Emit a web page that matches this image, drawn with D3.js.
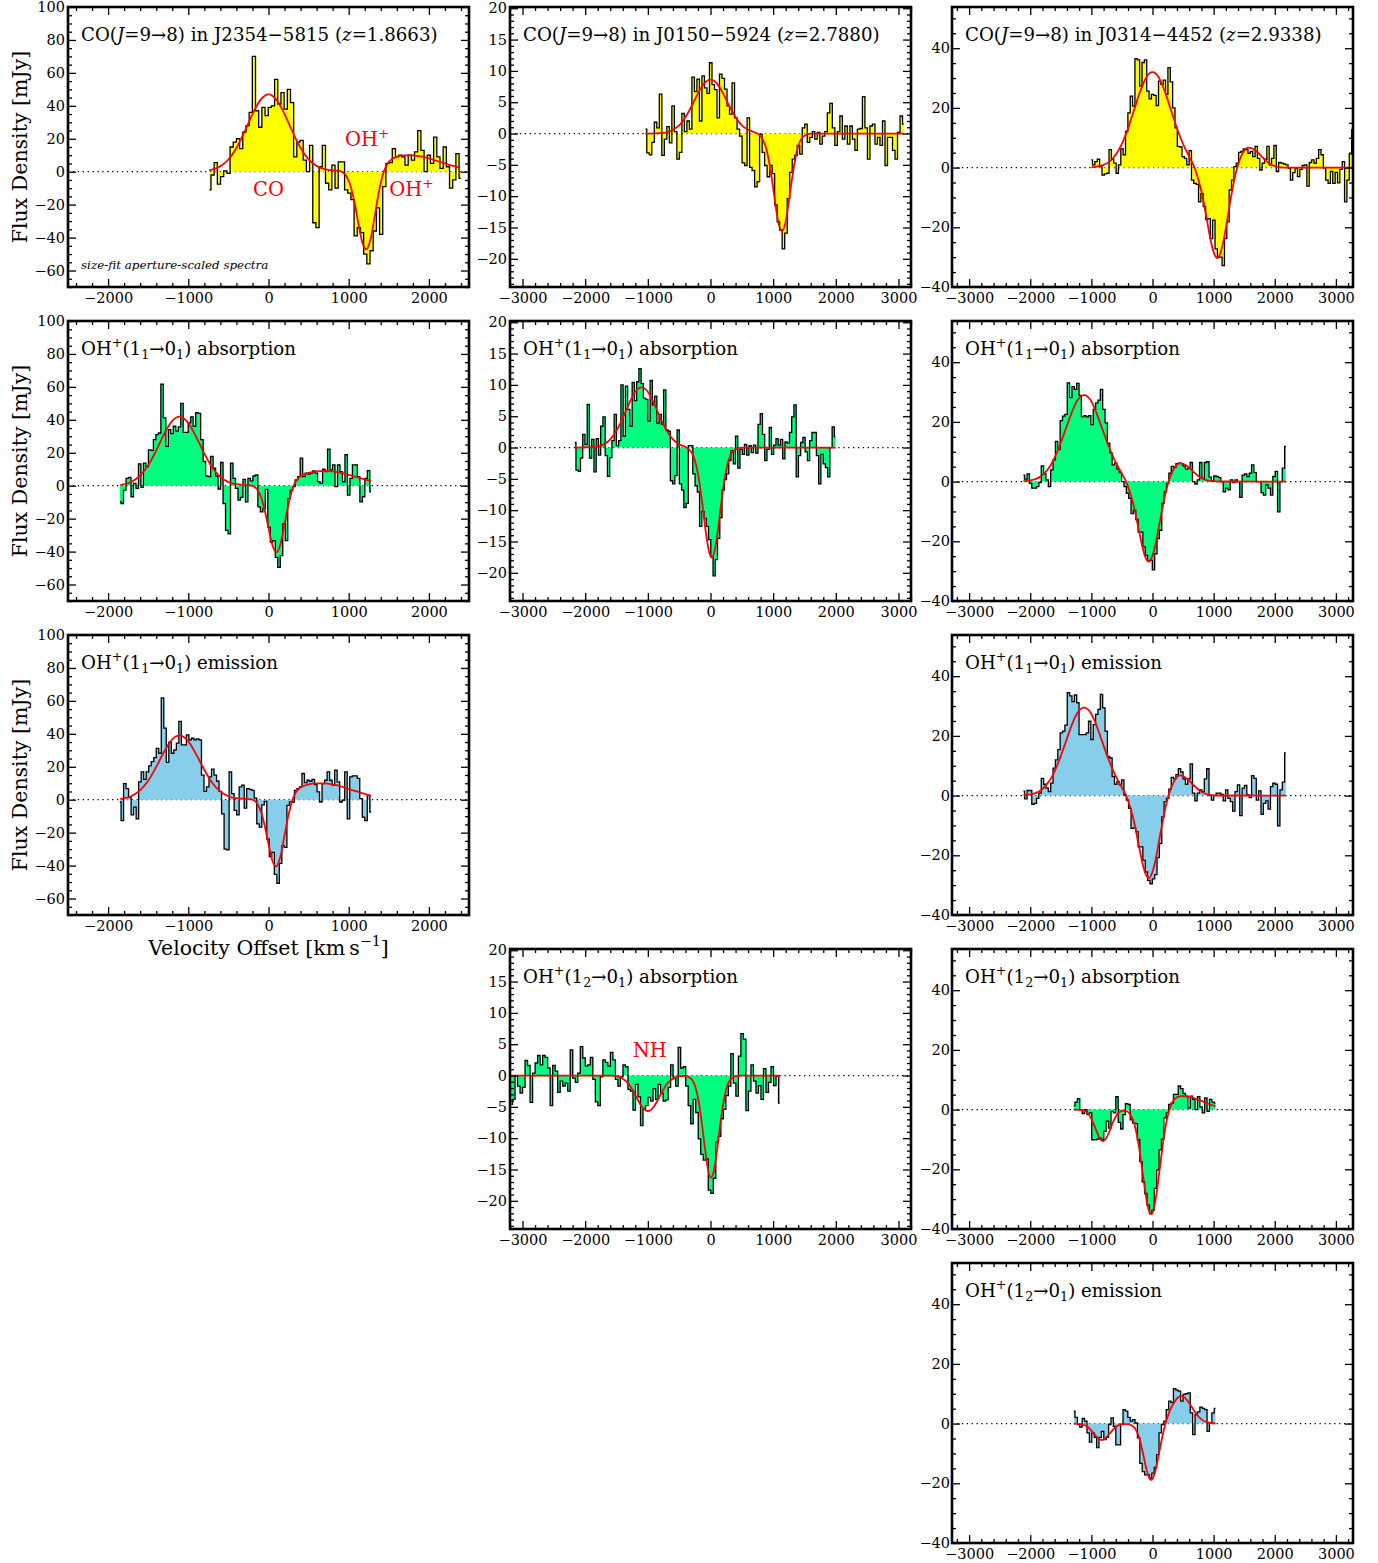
<!DOCTYPE html>
<html><head><meta charset="utf-8">
<script src="https://cdn.jsdelivr.net/npm/d3@7/dist/d3.min.js"></script>
<style>
html,body{margin:0;padding:0;background:#fff;}
svg{display:block;}
</style></head>
<body>
<svg id="chart" width="1378" height="1563"></svg>
<script>
// ================= DATA =================
// Channel flux densities [mJy], channels evenly spaced between first/last channel velocity [km/s]
const A1_range=[-737,2396];
const A1_flux=[-11,-2,5.5,-7.5,-3,0.5,-1,15,18,20,14,24,28,36,70,37,27,39,34,39,40,56,41,48,38,50,42,9,18,19,7,0,16,-31,-34,3,16,-7,-11,4,-10,6,6,-11,-13,-17,-39,-34,-37,-50,-56,-48,-36,-22,-38,-9,5,5.5,14,9,10,9,4,10,7,12,25,13,0,10,5,21,9,2,15,3,-10,-5,11,-4];
const A1_fitV=[-740,-600,-500,-400,-300,-200,-100,0,100,200,300,400,500,600,700,800,900,1000,1070,1120,1170,1220,1270,1320,1370,1420,1500,1600,1700,1800,1900,2000,2100,2200,2300,2390];
const A1_fitF=[0.8,3.3,7.4,14.4,24.2,35.0,43.6,47.0,43.6,35.0,24.2,14.4,7.5,3.4,1.5,0.85,0.2,-5.5,-18.1,-31.3,-42.9,-47.2,-41.5,-28.5,-14.0,-2.8,6.0,9.1,9.9,9.9,9.25,8.05,6.5,5.0,3.5,2.4];

const B1_range=[-1037,3085];
const B1_flux=[0.7,-3.1,-3.4,-1.4,1.8,0.9,6.3,-3.5,-0.9,1.1,-1.5,4.4,0.3,-4.1,-3.0,3.2,0.3,2.0,0.7,9.0,6.7,8.7,2.0,9.2,7.3,6.4,11.3,7.8,7.0,2.5,9.5,8.8,7.1,4.4,3.1,8.1,2.5,0.7,-0.4,-4.7,-5.1,2.5,-5.4,-5.9,-8.5,-7.7,-0.1,-3.0,-5.1,-6.9,-5.1,-6.4,-11.4,-14.1,-15.4,-18.4,-15.9,-10.4,-6.2,-4.1,-3.5,-1.9,-3.3,0.9,1.5,-1.4,-0.6,0.3,-0.9,0.2,-1.7,-0.4,0.3,3.3,4.8,0.9,-1.9,0.3,2.8,-0.9,1.2,-1.7,1.2,-0.9,-2.7,0.7,0.8,5.9,0.9,-4.1,1.2,1.5,-1.7,-0.6,-1.9,2.0,-5.1,-0.6,-0.6,-2.7,-4.1,0.2,2.8,1.5];
const B1_fitV=[-1040,-800,-700,-600,-500,-400,-300,-200,-100,0,100,200,300,400,500,600,700,800,900,960,1000,1040,1090,1140,1190,1240,1280,1320,1380,1480,1600,3080];
const B1_fitF=[0,0.07,0.2,0.6,1.3,2.6,4.4,6.4,8.0,8.6,8.0,6.4,4.4,2.6,1.3,0.6,0.2,-0.44,-2.8,-6.0,-8.7,-11.6,-14.5,-15.6,-14.5,-11.6,-8.7,-6.0,-2.8,-0.5,0,0];

const C1_range=[-1000,3277];
const C1_flux=[2.6,0.9,2.0,2.8,0.3,-2.5,-2.1,-1.9,6.0,2.8,1.5,-1.9,0.9,6.3,4.3,12.1,18.3,23.9,20.6,36.5,36.1,27.3,35.2,36.1,25.6,23.0,24.5,24.2,20.8,29.0,27.9,29.3,24.5,33.5,28.7,20.0,13.3,7.1,6.9,3.7,3.1,0.9,5.7,-4.2,-5.3,-5.6,-11.5,-8.7,-13.1,-17.4,-17.1,-23.8,-17.6,-27.2,-30.0,-30.0,-32.8,-23.8,-18.2,-7.5,-4.2,0.3,1.5,5.1,5.4,6.3,6.0,4.8,5.4,3.7,7.1,3.1,-0.8,1.5,2.8,7.1,0.9,3.1,7.4,-1.3,1.7,1.5,1.2,0.9,-0.2,-4.2,-1.7,-0.2,-3.0,-0.6,0.7,0.9,-6.2,1.7,2.6,1.5,3.1,6.0,4.3,-0.2,-4.2,-5.3,-1.3,-5.3,-1.6,-5.1,-0.6,2.0,-11.5,-4.2,4.6,12.7];
const C1_fitV=[-1000,-800,-700,-600,-500,-400,-300,-200,-100,0,100,200,300,400,500,600,700,800,900,960,1010,1060,1110,1160,1250,1350,1450,1570,1700,1800,1900,2000,2100,2200,3270];
const C1_fitF=[0.1,0.9,2.1,4.3,8.0,13.2,19.4,25.6,30.3,32,30.3,25.6,19.4,13.2,7.9,3.7,-0.7,-7.9,-18.7,-25.2,-28.9,-30.3,-28.7,-24.7,-14.0,-2.9,3.8,6.7,5.5,3.4,1.5,0.5,0.1,0,0];

const A2_range=[-1854,1279];
const A2_flux=[-9.8,-10.8,-2.7,4.5,5.1,-6.7,1.4,-1.6,13.3,-1.0,13.7,11.6,21.8,21.4,28.0,31.0,32.0,61.6,41.2,23.9,34.1,31.6,36.1,33.1,35.7,50.0,32.4,32.4,38.2,41.8,36.1,44.3,43.9,28.0,14.7,5.9,5.5,17.8,10.6,5.9,-2.0,14.1,-10.8,-27.1,-29.2,13.7,4.5,-1.6,-8.8,-7.1,3.9,-9.8,4.5,2.9,5.9,6.5,-12.9,-15.9,-13.9,-2.2,-25.1,-34.3,-33.3,-43.5,-49.6,-42.4,-23.1,-33.3,-7.8,-2.7,-0.6,3.5,5.5,16.7,5.5,7.6,7.1,7.6,9.0,7.6,2.4,1.4,10.0,8.6,22.2,9.6,12.7,-0.6,12.7,8.6,2.4,18.8,-5.7,4.5,12.7,12.7,5.5,-9.8,-6.7,4.5,9.2,-3.7];
const A2_fitV=[-1850,-1700,-1600,-1500,-1400,-1300,-1200,-1110,-1000,-900,-800,-700,-600,-500,-400,-300,-200,-100,-40,0,50,100,150,200,250,300,400,500,600,700,800,900,1000,1100,1200,1280];
const A2_fitF=[0.5,2.6,6.2,12.4,21.4,31.5,39.4,42,38.1,29.5,19.5,10.9,5.2,2.2,0.9,0.5,-0.1,-6.0,-16.4,-25.6,-36.3,-40.4,-35.2,-23.5,-11.0,-1.8,5.9,7.8,8.7,9.0,8.7,7.8,6.6,5.2,3.8,2.8];

const B2_range=[-2165,1995];
const B2_flux=[0.8,-3.6,-3.8,-1.7,2.1,0.5,6.9,-1.7,1.3,-3.9,1.4,-1.2,3.4,4.9,-1.3,-4.6,-1.6,1.1,5.3,0.3,1.1,10.0,1.8,9.8,6.1,3.4,10.4,7.5,10.5,12.6,10.2,7.9,7.7,4.2,10.7,6.8,8.2,3.9,5.3,3.7,9.2,2.8,2.6,-5.3,-5.8,-4.5,2.8,-5.8,-6.8,-9.6,-8.9,0.3,0.3,-4.2,-6.1,-7.1,-12.6,-10.2,-11.3,-12.6,-14.7,-17.4,-20.5,-17.9,-14.5,-11.2,-6.8,-5.1,-4.2,-2.1,-0.5,-2.6,1.8,-3.3,-0.3,-1.1,0.5,-1.2,0.3,-0.8,0.4,-0.9,3.7,5.4,2.1,-2.1,-0.3,3.2,-1.1,0.4,1.4,0.4,1.3,-1.8,0.9,0.7,2.4,4.9,6.8,-4.7,-1.3,0.8,1.6,-0.7,-2.1,1.1,2.4,2.4,-1.3,-5.8,-1.1,-2.6,-3.2,-4.7,0,3.3,1.7];
const B2_fitV=[-2165,-1900,-1800,-1700,-1600,-1500,-1400,-1300,-1200,-1100,-1000,-900,-800,-700,-600,-500,-400,-300,-200,-130,-80,-30,20,70,120,170,240,350,500,1995];
const B2_fitF=[0,0.06,0.2,0.5,1.3,2.7,4.7,7.0,8.9,9.6,8.9,7.0,4.7,2.7,1.3,0.5,0.1,-0.8,-4.2,-9.0,-13.1,-16.3,-17.6,-16.3,-13.1,-9.0,-4.2,-0.7,0,0];

const C2_range=[-2110,2181];
const C2_flux=[2.2,0.8,2.6,-0.6,-2.2,-2.2,-1.7,-0.3,5.3,2.6,0.6,-1.7,3.9,7.3,13.5,10.7,20.4,21.9,22.5,33.1,28.1,31.8,30.9,32.9,28.9,21.7,22.1,21.7,22.1,19.1,24.2,26.4,27.3,30.9,24.2,19.7,12.9,9.6,5.6,6.2,4.2,3.0,0,-1.7,-3.9,-5.6,-10.7,-9.6,-12.7,-16.9,-16.9,-21.9,-24.7,-26.6,-26.4,-29.6,-24.2,-19.1,-16.3,-7.3,-3.4,-0.6,2.8,5.1,4.8,6.0,6.2,6.0,5.3,4.2,4.5,6.4,0,-0.8,0.6,6.4,1.1,6.4,6.7,1.5,0.3,1.9,1.7,1.3,0,-3.4,-2.2,-2.8,0.6,-0.3,0.6,0,-5.3,2.2,2.6,1.7,2.8,5.6,3.0,0,0,-3.7,-4.5,-1.1,-2.2,-4.5,1.7,3.4,-10.1,0,4.5,11.8];
const C2_fitV=[-2110,-1920,-1820,-1720,-1620,-1520,-1420,-1320,-1220,-1120,-1020,-920,-820,-720,-620,-520,-420,-320,-220,-160,-110,-60,-10,40,130,230,330,450,580,680,780,880,980,1080,2180];
const C2_fitF=[0.1,0.8,1.9,3.9,7.2,12.0,17.6,23.2,27.5,29.0,27.5,23.2,17.6,12.0,7.2,3.3,-0.6,-7.0,-16.6,-22.3,-25.6,-26.8,-25.4,-21.9,-12.3,-2.5,3.5,6.2,5.0,3.1,1.4,0.5,0.13,0.03,0];

const A3_range=[-1854,1279];
const A3_flux=[-1.4,-12.7,9.8,6.7,1.6,-9.2,-4.5,-11.6,10.8,16.9,12.4,16.9,20.6,23.1,25.5,31.2,28.2,61.8,43.5,22.7,34.9,28.2,30.2,34.3,47.6,33.3,33.3,39.4,36.3,37.3,36.3,36.9,36.3,14.9,5.1,7.8,13.9,18.6,14.9,11.2,5.1,-8.6,-30.0,-30.4,16.9,3.7,-6.5,-9.2,7.8,8.8,-5.1,6.7,6.3,5.7,1.0,-14.7,-16.7,-3.1,-1.0,-23.9,-34.5,-32.0,-45.3,-50.8,-38.6,-28.0,-29.0,-3.5,-1.4,-1.4,5.7,6.7,7.8,15.9,10.4,11.8,11.2,12.4,9.2,4.7,-1.4,9.8,11.8,16.9,11.8,8.8,18.0,10.8,-1.4,-0.4,16.9,-11.6,13.9,14.5,14.5,12.9,0.6,-10.6,-12.7,2.7,-7.6];
const A3_fitV=[-1850,-1700,-1600,-1500,-1400,-1300,-1200,-1110,-1000,-900,-800,-700,-600,-500,-400,-300,-200,-100,-40,0,50,95,150,200,250,300,400,500,600,700,800,900,1000,1100,1200,1280];
const A3_fitF=[0.5,2.4,5.8,11.5,19.9,29.3,36.6,39,35.4,27.4,18.1,10.1,4.9,2.1,0.9,0.6,0.1,-6.5,-17.4,-26.9,-37.2,-40.5,-34.2,-21.7,-9.1,0,7.5,9.25,9.9,9.9,9.25,8.1,6.5,5.0,3.5,2.2];

const C3_range=[-2110,2181];
const C3_flux=[1.5,-1.1,1.7,1.7,-2.9,-2.6,-0.9,0.8,5.8,3.8,2.5,1.3,4.2,9.2,12.0,15.4,21.0,21.6,23.6,34.5,33.4,31.5,33.7,31.1,20.4,20.4,20.4,21.0,24.9,18.8,23.8,27.2,28.9,33.9,29.4,21.6,13.1,12.6,6.4,3.8,4.7,3.6,5.3,0.2,-1.5,-4.3,-11.0,-10.8,-12.1,-17.2,-17.2,-21.7,-25.6,-28.4,-29.6,-27.9,-26.5,-20.8,-16.1,-7.1,-2.0,-0.9,2.2,6.1,5.6,7.0,9.0,7.9,5.6,3.8,5.6,10.6,0.8,-1.8,0.8,1.9,1.3,5.6,9.0,0,-1.5,0,0.8,0.8,0.4,-1.8,1.9,-0.9,-2.0,-5.2,1.3,3.6,-6.7,2.5,3.4,0.2,-0.7,6.7,5.8,-1.5,1.6,-6.3,-2.6,-1.8,-4.5,3.0,4.2,3.8,-10.1,1.9,4.5,14.3];
const C3_fitV=[-2110,-1920,-1820,-1720,-1620,-1520,-1420,-1320,-1220,-1120,-1020,-920,-820,-720,-620,-520,-420,-320,-220,-160,-110,-60,-10,40,130,230,330,450,580,680,780,880,980,1080,2180];
const C3_fitF=[0.1,0.8,1.9,4.0,7.3,12.2,17.9,23.7,28.0,29.5,28.0,23.7,17.9,12.2,7.3,3.4,-0.6,-7.2,-17.1,-23.0,-26.4,-27.6,-26.1,-22.5,-12.6,-2.5,3.8,6.8,5.4,3.3,1.5,0.5,0.14,0.03,0];

const B4_range=[-3180,1106];
const B4_flux=[-4.6,-3.8,-0.1,-1.7,-2.8,-1.9,2.4,1.6,-4.3,0.4,2.0,3.2,1.7,3.2,2.9,1.2,-4.8,1.6,0.7,-2.7,-0.9,-1.7,-1.2,-2.5,4.1,-0.4,-1.1,0.4,4.6,2.8,1.5,1.7,2.9,-0.6,-4.2,-4.8,-0.2,2.5,2.1,1.5,3.7,2.5,-0.6,-1.7,-0.2,1.7,1.4,-2.2,-2.5,-5.5,-1.4,-3.4,-8.0,-5.4,-4.8,-3.5,-4.1,-2.1,-3.8,-1.4,-2.8,-4.1,-3.9,-1.9,1.7,-0.5,-1.7,4.5,1.2,1.4,-1.7,-4.8,-7.7,-3.8,-5.9,-10.1,-12.6,-13.5,-13.3,-18.3,-18.8,-16.4,-10.6,-9.7,-6.9,-5.4,-3.2,-1.7,3.5,-1.2,-3.3,3.1,6.7,5.8,-5.6,-2.5,1.7,-0.9,-2.8,-1.6,-3.8,1.1,-2.7,-1.1,1.4,-1.6,-0.1,-4.4];
const B4_fitV=[-3180,-1600,-1500,-1400,-1300,-1200,-1100,-1000,-900,-800,-700,-600,-500,-400,-300,-200,-150,-100,-50,0,50,100,150,200,300,400,500,1106];
const B4_fitF=[0,0,-0.1,-0.5,-1.4,-3.1,-4.9,-5.7,-4.9,-3.1,-1.4,-0.5,-0.1,-0.1,-0.6,-3.5,-6.7,-10.7,-14.4,-16.3,-15.4,-12.3,-8.3,-4.7,-0.9,-0.1,0,0];

const C4_range=[-1288,1030];
const C4_flux=[1.3,2.5,3.7,0,-1.3,0,-1.7,-1.1,-10.1,-10.1,-9.9,-9.6,-10.1,-7.3,-3.9,-6.2,-0.6,-1.1,4.3,-4.3,-6.5,-1.7,2.0,1.7,-3.4,-4.5,-4.7,-10.1,-17.4,-24.2,-28.1,-32.0,-34.8,-33.7,-26.4,-20.2,-13.5,-9.9,-2.8,-1.1,1.7,2.2,5.1,5.1,7.9,7.0,5.4,4.5,0.6,4.5,3.4,0,4.3,0.9,-1.1,3.9,-0.6,3.4,2.5,2.2];
const C4_fitV=[-1290,-1150,-1050,-950,-900,-860,-810,-760,-710,-650,-560,-500,-440,-380,-300,-230,-160,-100,-60,-20,20,60,120,180,240,300,400,480,600,700,800,900,1030];
const C4_fitF=[0,-0.2,-1.4,-5.4,-8.0,-9.7,-10.6,-9.7,-7.5,-4.4,-1.2,-0.4,-0.4,-1.2,-4.6,-11.4,-21.4,-30.0,-33.8,-35.0,-33.3,-28.9,-19.6,-10.1,-2.9,1.3,4.1,4.5,4.3,3.7,2.9,2.05,1.15];

const C5_range=[-1288,1030];
const C5_flux=[4.2,2.1,-0.3,-1.2,1.7,0.8,-3.1,-6.2,-3.1,-4.6,-8.0,-4.6,-2.6,-5.4,-4.6,-0.3,1.9,-0.9,-7.1,-7.1,-0.3,4.7,4.2,2.1,0.8,1.3,0.2,-4.8,-13.3,-16.1,-17.2,-17.2,-18.3,-16.6,-14.7,-10.4,-3.1,-0.3,0.8,4.7,7.5,7.0,11.7,11.2,10.9,7.5,9.8,10.0,10.3,3.6,-3.7,3.0,3.9,5.5,5.1,4.7,-2.6,0.2,3.6,5.1];
const C5_fitV=[-1290,-1150,-1050,-950,-880,-830,-780,-700,-600,-500,-400,-300,-220,-160,-100,-60,-20,30,80,130,180,230,300,370,420,470,520,600,700,800,900,1030];
const C5_fitF=[0,-0.3,-1.3,-3.6,-5.1,-5.5,-5.1,-3.3,-1.15,-0.2,-0.15,-1.25,-4.7,-9.6,-15.2,-17.9,-18.9,-17.1,-12.7,-7.5,-2.55,1.2,5.1,7.6,8.8,9.2,8.8,6.9,3.7,1.4,0.4,0.04];

// Axis tick values per column
const xTicksCol=[[-2000,-1000,0,1000,2000],[-3000,-2000,-1000,0,1000,2000,3000],[-3000,-2000,-1000,0,1000,2000,3000]];
const yTicksCol=[[-60,-40,-20,0,20,40,60,80,100],[-20,-15,-10,-5,0,5,10,15,20],[-40,-20,0,20,40]];
const xDomainCol=[[-2500,2500],[-3200,3200],[-3280,3280]];
const yDomainCol=[[-70,100],[-24.5,20.2],[-40,53.8]];
const yMinorStepCol=[5,1,5];
const xMinorStep=200;

// Titles
const coTitle=(src,zz)=>[{t:'CO('},{t:'J',i:1},{t:'=9→8) in '+src+' ('},{t:'z',i:1},{t:'='+zz+')'}];
const ohTitle=(sub,kind)=>[{t:'OH'},{t:'+',sup:1},{t:'(1'},{t:sub,sub:1},{t:'→0'},{t:'1',sub:1},{t:') '+kind}];

const FILL={co:'#ffff00',abs:'#00ff7f',em:'#87ceeb'};

const panels=[
 {col:0,row:0,kind:'co', range:A1_range,flux:A1_flux,fitV:A1_fitV,fitF:A1_fitF,title:coTitle('J2354−5815','1.8663')},
 {col:1,row:0,kind:'co', range:B1_range,flux:B1_flux,fitV:B1_fitV,fitF:B1_fitF,title:coTitle('J0150−5924','2.7880')},
 {col:2,row:0,kind:'co', range:C1_range,flux:C1_flux,fitV:C1_fitV,fitF:C1_fitF,title:coTitle('J0314−4452','2.9338')},
 {col:0,row:1,kind:'abs',range:A2_range,flux:A2_flux,fitV:A2_fitV,fitF:A2_fitF,title:ohTitle('1','absorption')},
 {col:1,row:1,kind:'abs',range:B2_range,flux:B2_flux,fitV:B2_fitV,fitF:B2_fitF,title:ohTitle('1','absorption')},
 {col:2,row:1,kind:'abs',range:C2_range,flux:C2_flux,fitV:C2_fitV,fitF:C2_fitF,title:ohTitle('1','absorption')},
 {col:0,row:2,kind:'em', range:A3_range,flux:A3_flux,fitV:A3_fitV,fitF:A3_fitF,title:ohTitle('1','emission')},
 {col:2,row:2,kind:'em', range:C3_range,flux:C3_flux,fitV:C3_fitV,fitF:C3_fitF,title:ohTitle('1','emission')},
 {col:1,row:3,kind:'abs',range:B4_range,flux:B4_flux,fitV:B4_fitV,fitF:B4_fitF,title:ohTitle('2','absorption')},
 {col:2,row:3,kind:'abs',range:C4_range,flux:C4_flux,fitV:C4_fitV,fitF:C4_fitF,title:ohTitle('2','absorption')},
 {col:2,row:4,kind:'em', range:C5_range,flux:C5_flux,fitV:C5_fitV,fitF:C5_fitF,title:ohTitle('2','emission')}
];

// ================= LAYOUT =================
const colX=[68,510,952], rowY=[7,321,635,949,1263], PW=401, PH=280;
const FONT="'DejaVu Serif', serif";
const TICKFS=14.5, TITLEFS=18.2, LABELFS=20.5, REDFS=19.5;

const svg=d3.select('#chart');

function richText(sel,segs,size){
  let shift=0;
  segs.forEach(s=>{
    const target=s.sup?-0.42*size:(s.sub?0.22*size:0);
    const ts=sel.append('tspan').text(s.t).attr('dy',(target-shift).toFixed(2));
    shift=target;
    if(s.sup||s.sub) ts.attr('font-size',(size*0.7).toFixed(2));
    if(s.i) ts.attr('font-style','italic');
  });
}

function styleAxis(g){
  g.select('.domain').remove();
  g.selectAll('line').attr('stroke','#000').attr('stroke-width',1.3);
  g.selectAll('text').attr('font-family',FONT).attr('font-size',TICKFS).attr('fill','#000');
}

panels.forEach((p,pi)=>{
  const c=p.col;
  const g=svg.append('g').attr('transform',`translate(${colX[c]},${rowY[p.row]})`);
  const x=d3.scaleLinear().domain(xDomainCol[c]).range([0,PW]);
  const y=d3.scaleLinear().domain(yDomainCol[c]).range([PH,0]);
  const clipId='clip'+pi;
  g.append('clipPath').attr('id',clipId).append('rect').attr('width',PW).attr('height',PH);
  const plot=g.append('g').attr('clip-path',`url(#${clipId})`);

  // zero line
  plot.append('line').attr('x1',0).attr('x2',PW).attr('y1',y(0)).attr('y2',y(0))
    .attr('stroke','#000').attr('stroke-width',1.2).attr('stroke-dasharray','1.3,3.6');

  // channels
  const chan=d3.scaleLinear().domain([0,p.flux.length-1]).range(p.range);
  const pts=p.flux.map((f,i)=>[chan(i),f]);
  plot.append('path').datum(pts)
    .attr('d',d3.area().x(d=>x(d[0])).y0(y(0)).y1(d=>y(d[1])).curve(d3.curveStep))
    .attr('fill',FILL[p.kind]);
  plot.append('path').datum(pts)
    .attr('d',d3.line().x(d=>x(d[0])).y(d=>y(d[1])).curve(d3.curveStep))
    .attr('fill','none').attr('stroke','#000').attr('stroke-width',1.3);
  // fit
  const fit=p.fitV.map((v,i)=>[v,p.fitF[i]]);
  plot.append('path').datum(fit)
    .attr('d',d3.line().x(d=>x(d[0])).y(d=>y(d[1])).curve(d3.curveMonotoneX))
    .attr('fill','none').attr('stroke','#ff0000').attr('stroke-width',1.8);

  // axes
  const xMinor=d3.range(Math.ceil(xDomainCol[c][0]/xMinorStep)*xMinorStep,xDomainCol[c][1]+1,xMinorStep).filter(v=>!xTicksCol[c].includes(v));
  const ys=yMinorStepCol[c];
  const yMinor=d3.range(Math.ceil(yDomainCol[c][0]/ys)*ys,yDomainCol[c][1]+0.001,ys).filter(v=>!yTicksCol[c].includes(v));
  const fmt=d3.format('d');

  g.append('g').attr('transform',`translate(0,${PH})`)
    .call(d3.axisBottom(x).tickValues(xTicksCol[c]).tickSize(-8).tickPadding(5.5).tickFormat(fmt)).call(styleAxis);
  g.append('g').attr('transform',`translate(0,${PH})`)
    .call(d3.axisBottom(x).tickValues(xMinor).tickSize(-4).tickFormat('')).call(styleAxis);
  g.append('g').call(d3.axisTop(x).tickValues(xTicksCol[c]).tickSize(-8).tickFormat('')).call(styleAxis);
  g.append('g').call(d3.axisTop(x).tickValues(xMinor).tickSize(-4).tickFormat('')).call(styleAxis);
  g.append('g').call(d3.axisLeft(y).tickValues(yTicksCol[c]).tickSize(-8).tickPadding(c===2?2:3).tickFormat(fmt)).call(styleAxis);
  g.append('g').call(d3.axisLeft(y).tickValues(yMinor).tickSize(-4).tickFormat('')).call(styleAxis);
  g.append('g').attr('transform',`translate(${PW},0)`)
    .call(d3.axisRight(y).tickValues(yTicksCol[c]).tickSize(-8).tickFormat('')).call(styleAxis);
  g.append('g').attr('transform',`translate(${PW},0)`)
    .call(d3.axisRight(y).tickValues(yMinor).tickSize(-4).tickFormat('')).call(styleAxis);

  // frame
  g.append('rect').attr('width',PW).attr('height',PH).attr('fill','none')
    .attr('stroke','#000').attr('stroke-width',2.6);

  // title
  const t=g.append('text').attr('x',13).attr('y',34).attr('font-family',FONT)
    .attr('font-size',TITLEFS).attr('fill','#000');
  richText(t,p.title,TITLEFS);

  // y label
  if(c===0){
    svg.append('text').attr('transform',`translate(27,${rowY[p.row]+PH/2}) rotate(-90)`)
      .attr('text-anchor','middle').attr('font-family',FONT).attr('font-size',LABELFS).attr('fill','#000')
      .text('Flux Density [mJy]');
  }
  p.x=x; p.y=y; p.g=g;
});

// x-axis label under panel col0,row2
{
  const xl=svg.append('text').attr('x',colX[0]+PW/2).attr('y',955).attr('text-anchor','middle')
    .attr('font-family',FONT).attr('font-size',LABELFS).attr('fill','#000');
  richText(xl,[{t:'Velocity Offset [km\u2009s'},{t:'−1',sup:1},{t:']'}],LABELFS);
}

// annotations (data coordinates)
{
  const p=panels[0];
  const red=(g,vx,fy,segs,anchor)=>{
    const t=g.append('text').attr('x',p.x(vx)).attr('y',p.y(fy)).attr('text-anchor',anchor)
      .attr('font-family',FONT).attr('font-size',REDFS).attr('fill','#ff0000');
    richText(t,segs,REDFS);
  };
  red(p.g,0,-15,[{t:'CO'}],'middle');
  red(p.g,955,15.4,[{t:'OH'},{t:'+',sup:1}],'start');
  red(p.g,1505,-15,[{t:'OH'},{t:'+',sup:1}],'start');
  p.g.append('text').attr('x',13).attr('y',p.y(-59)).attr('font-family',FONT).attr('font-style','italic')
    .attr('font-size',11.9).attr('fill','#000').text('size-fit aperture-scaled spectra');
  const q=panels[8];
  q.g.append('text').attr('x',q.x(-1240)).attr('y',q.y(2.9)).attr('font-family',FONT)
    .attr('font-size',REDFS).attr('fill','#ff0000').text('NH');
}
</script>
</body></html>
